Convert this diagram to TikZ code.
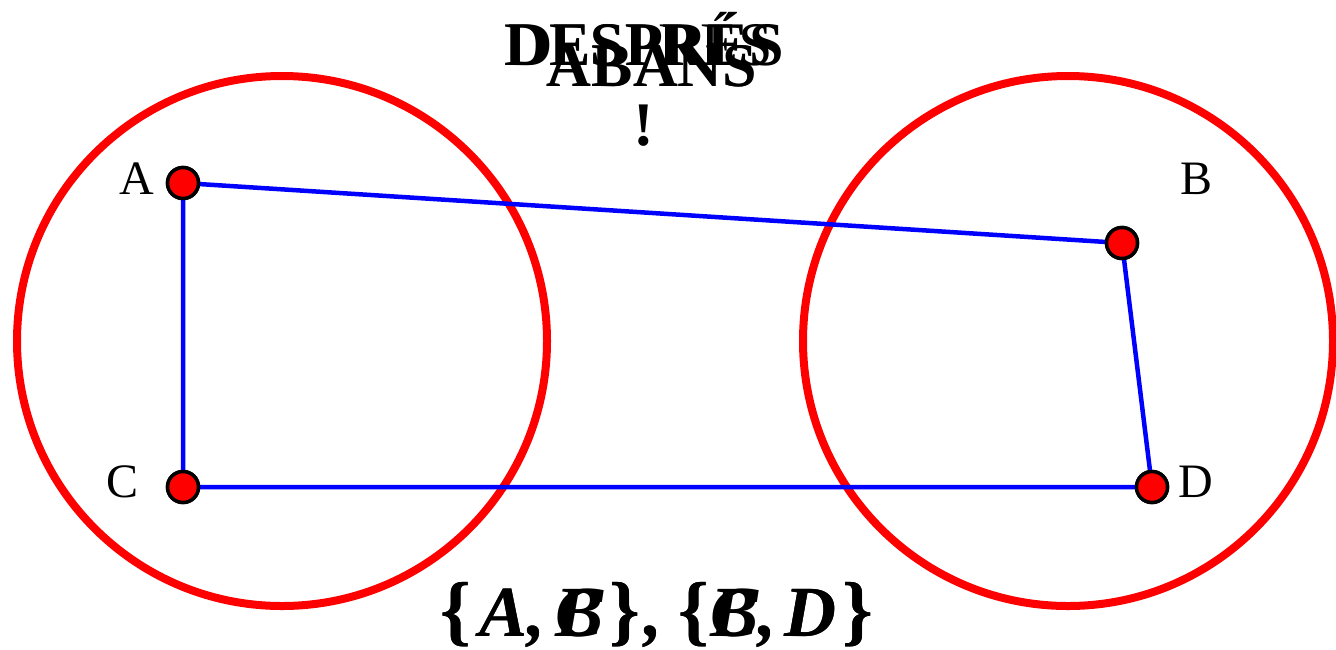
\documentclass[tikz,border=0pt]{standalone}
\usepackage{fontspec}
\setmainfont{Liberation Serif}
\newcommand{\lbr}{{\upshape\fontsize{78}{80}\selectfont\bfseries\{}}
\newcommand{\rbr}{{\upshape\fontsize{78}{80}\selectfont\bfseries\}}}
\begin{document}
\begin{tikzpicture}[x=1pt,y=-1pt,
  ring/.style={draw=red,line width=8pt},
  edge/.style={draw=blue,line width=4.5pt},
  vdot/.style={circle,fill=red,draw=black,line width=3.5pt,minimum size=31pt,inner sep=0pt},
  lbl/.style={anchor=base,inner sep=0pt,font=\fontsize{48}{58}\selectfont},
  ttl/.style={anchor=base,inner sep=0pt,font=\fontsize{62}{70}\selectfont},
  mth/.style={anchor=base,inner sep=0pt,font=\fontsize{72}{80}\selectfont\bfseries\itshape}]
\useasboundingbox (0,0) rectangle (1336,649);
\draw[ring] (282,341) circle (265);
\draw[ring] (1068,341) circle (265);
\node[vdot] (A) at (183,183) {};
\node[vdot] (B) at (1122,243) {};
\node[vdot] (C) at (183,487) {};
\node[vdot] (D) at (1152,487) {};
\draw[edge] (A.center) -- (B.center) -- (D.center) -- (C.center) -- (A.center);
\node[vdot] at (A) {};
\node[vdot] at (B) {};
\node[vdot] at (C) {};
\node[vdot] at (D) {};
\node[lbl] (la) at (137,194) {A};
\node[lbl] (lb) at (1196,194) {B};
\node[lbl] (lc) at (123,497) {C};
\node[lbl] (ld) at (1196,497) {D};
\node[ttl] (t1) at (640,65) {DESPRÉS};
\node[ttl,font=\fontsize{62}{70}\selectfont\bfseries] (t2) at (644,65) {DESPRÉS};
\node[ttl] (t3) at (652,86) {ABANS};
\node[ttl,font=\fontsize{62}{70}\selectfont\bfseries] (t4) at (652,86) {ABANS};
\node[ttl,font=\fontsize{62}{70}\selectfont\bfseries] (ex) at (644,145) {!};
\node[mth] (m1) at (657,636) {\lbr\kern8pt A,\kern10pt B\kern6pt\rbr\kern4pt,\kern16pt\lbr\kern2pt C,\kern8pt D\kern6pt\rbr};
\node[mth] (m2) at (657,636) {\lbr\kern8pt A,\kern10pt C\kern6pt\rbr\kern4pt,\kern16pt\lbr\kern2pt B,\kern8pt D\kern6pt\rbr};
\end{tikzpicture}
\end{document}
